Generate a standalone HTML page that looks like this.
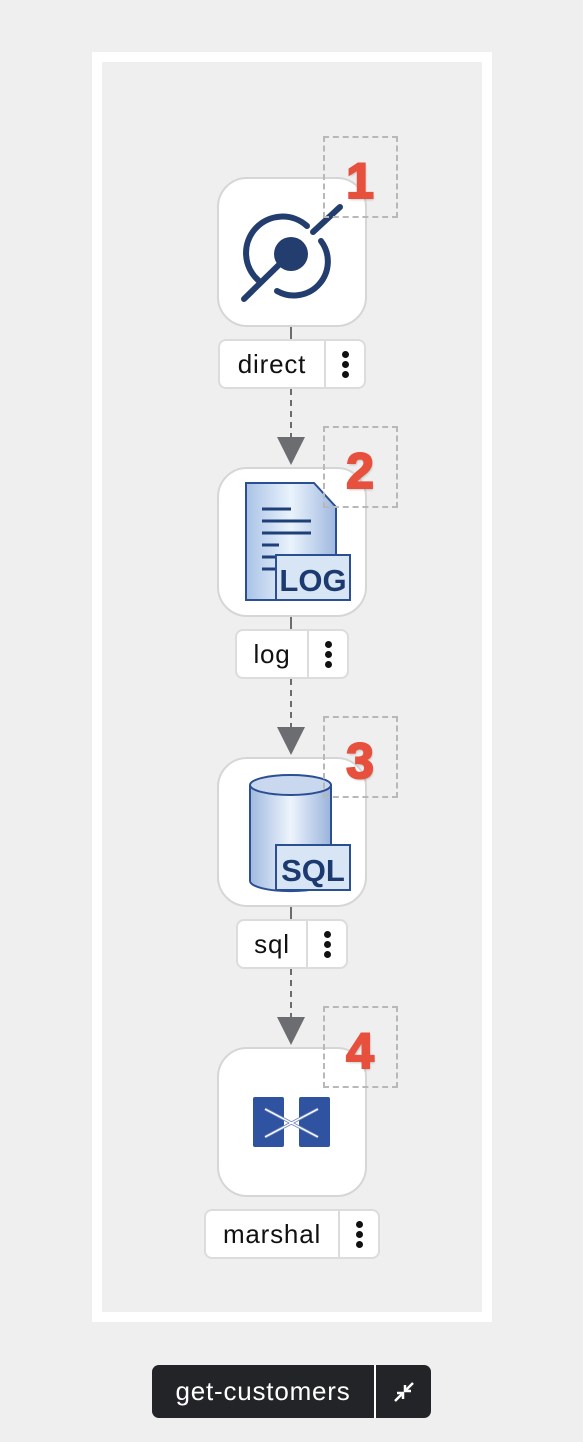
<!DOCTYPE html>
<html><head><meta charset="utf-8"><style>
*{box-sizing:border-box;margin:0;padding:0}
body{width:583px;height:1442px;background:#efefef;position:relative;overflow:hidden;font-family:"Liberation Sans",sans-serif}
.frame{position:absolute;left:92px;top:52px;width:400px;height:1270px;border:10px solid #fff;background:#efefef}
.node{position:absolute;left:217px;width:150px;height:150px;background:#fff;border:2px solid #d6d6d6;border-radius:30px}
.lbl{position:absolute;height:50px;background:#fff;border:2px solid #dcdcdc;border-radius:8px;display:flex;font-size:26px;letter-spacing:.8px;color:#111}
.lbl .t{flex:1;display:flex;align-items:center;justify-content:center;border-right:2px solid #dcdcdc}
.lbl .m{width:38px;display:flex;flex-direction:column;align-items:center;justify-content:center;gap:3px;flex:none}
.lbl .m i{width:7px;height:7px;border-radius:50%;background:#111;display:block}
.badge{position:absolute;left:323px;width:75px;height:82px;border:2px dashed #b8b8b8}
.num{position:absolute;left:340px;font-weight:bold;font-size:50px;color:#e8503e;width:40px;text-align:center;-webkit-text-stroke:2px #e8503e;text-shadow:1px 2px 2px rgba(0,0,0,.2)}
.dl{position:absolute;left:290px;width:0;border-left:2px dashed #6c6c6c}
.ar{position:absolute;left:277px;width:0;height:0;border-left:14px solid transparent;border-right:14px solid transparent;border-top:28px solid #6b6d70}
</style></head><body>
<div class="frame"></div>

<div class="dl" style="top:327px;height:12px"></div>
<div class="dl" style="top:389px;height:50px"></div>
<div class="ar" style="top:437px"></div>
<div class="dl" style="top:617px;height:12px"></div>
<div class="dl" style="top:679px;height:50px"></div>
<div class="ar" style="top:727px"></div>
<div class="dl" style="top:907px;height:12px"></div>
<div class="dl" style="top:969px;height:50px"></div>
<div class="ar" style="top:1017px"></div>

<div class="node" style="top:177px">
<svg width="146" height="146" viewBox="0 0 146 146">
<g fill="none" stroke="#223d6e" stroke-width="6" stroke-linecap="round">
<path d="M39 101 A34 34 0 0 1 88 47"/>
<path d="M102 62 A34 34 0 0 1 58 112"/>
<line x1="25" y1="120" x2="70" y2="76"/>
<line x1="94" y1="53" x2="121" y2="28"/>
</g>
<circle cx="72" cy="75" r="17" fill="#223d6e"/>
</svg></div>
<div class="node" style="top:467px">
<svg width="146" height="146" viewBox="0 0 146 146">
<defs><linearGradient id="g1" x1="0" x2="1"><stop offset="0" stop-color="#a9c3e6"/><stop offset=".5" stop-color="#eaf3fc"/><stop offset="1" stop-color="#9fb8df"/></linearGradient></defs>
<path d="M27 14 H95 L117 38 V131 H27Z" fill="url(#g1)" stroke="#2a4f92" stroke-width="2"/>
<g stroke="#1f3f78" stroke-width="3"><line x1="43" y1="40" x2="72" y2="40"/><line x1="43" y1="52" x2="92" y2="52"/><line x1="43" y1="64" x2="92" y2="64"/><line x1="43" y1="76" x2="60" y2="76"/><line x1="43" y1="88" x2="60" y2="88"/><line x1="43" y1="100" x2="60" y2="100"/></g>
<rect x="57" y="86" width="74" height="45" fill="#d7e5f5" stroke="#2a4f92" stroke-width="2"/>
<text x="94" y="122" font-family="Liberation Sans,sans-serif" font-weight="bold" font-size="31" fill="#1d3a70" text-anchor="middle">LOG</text>
</svg></div>
<div class="node" style="top:757px">
<svg width="146" height="146" viewBox="0 0 146 146">
<defs><linearGradient id="g2" x1="0" x2="1"><stop offset="0" stop-color="#9fb9e0"/><stop offset=".5" stop-color="#eef4fc"/><stop offset="1" stop-color="#9ab3dc"/></linearGradient></defs>
<path d="M31 26 V122 A40 10 0 0 0 112 122 V26" fill="url(#g2)" stroke="#2a4f92" stroke-width="2"/>
<ellipse cx="71.5" cy="26" rx="40.5" ry="10" fill="#c9d8ef" stroke="#2a4f92" stroke-width="2"/>
<rect x="57" y="86" width="74" height="45" fill="#d7e5f5" stroke="#2a4f92" stroke-width="2"/>
<text x="94" y="122" font-family="Liberation Sans,sans-serif" font-weight="bold" font-size="31" fill="#1d3a70" text-anchor="middle">SQL</text>
</svg></div>
<div class="node" style="top:1047px">
<svg width="146" height="146" viewBox="0 0 146 146">
<rect x="34" y="48" width="31" height="50" rx="2" fill="#2f53a0"/>
<rect x="80" y="48" width="31" height="50" rx="2" fill="#2f53a0"/>
<g stroke="#6f86c0" stroke-width="3"><line x1="46" y1="60" x2="99" y2="88"/><line x1="46" y1="88" x2="99" y2="60"/></g>
<g stroke="#fff" stroke-width="1.5"><line x1="46" y1="60" x2="99" y2="88"/><line x1="46" y1="88" x2="99" y2="60"/></g>
</svg></div>

<div class="lbl" style="left:218px;top:339px;width:148px"><div class="t">direct</div><div class="m"><i></i><i></i><i></i></div></div>
<div class="lbl" style="left:235px;top:629px;width:114px"><div class="t">log</div><div class="m"><i></i><i></i><i></i></div></div>
<div class="lbl" style="left:236px;top:919px;width:112px"><div class="t">sql</div><div class="m"><i></i><i></i><i></i></div></div>
<div class="lbl" style="left:204px;top:1209px;width:176px"><div class="t">marshal</div><div class="m"><i></i><i></i><i></i></div></div>

<div class="badge" style="top:136px"></div><div class="num" style="top:152px">1</div>
<div class="badge" style="top:426px"></div><div class="num" style="top:442px">2</div>
<div class="badge" style="top:716px"></div><div class="num" style="top:732px">3</div>
<div class="badge" style="top:1006px"></div><div class="num" style="top:1022px">4</div>

<div style="position:absolute;left:152px;top:1365px;width:279px;height:53px;background:#232427;border-radius:7px;display:flex;color:#fff;font-size:26px;letter-spacing:.8px">
<div style="width:224px;display:flex;align-items:center;justify-content:center;border-right:2px solid #fff">get-customers</div>
<div style="flex:1;display:flex;align-items:center;justify-content:center">
<svg width="22" height="22" viewBox="0 0 22 22" stroke="#fff" stroke-width="2.5" fill="none"><line x1="2" y1="20" x2="9" y2="13"/><polyline points="4,12 10,12 10,18"/><line x1="20" y1="2" x2="13" y2="9"/><polyline points="12,4 12,10 18,10"/></svg></div>
</div>
</body></html>
